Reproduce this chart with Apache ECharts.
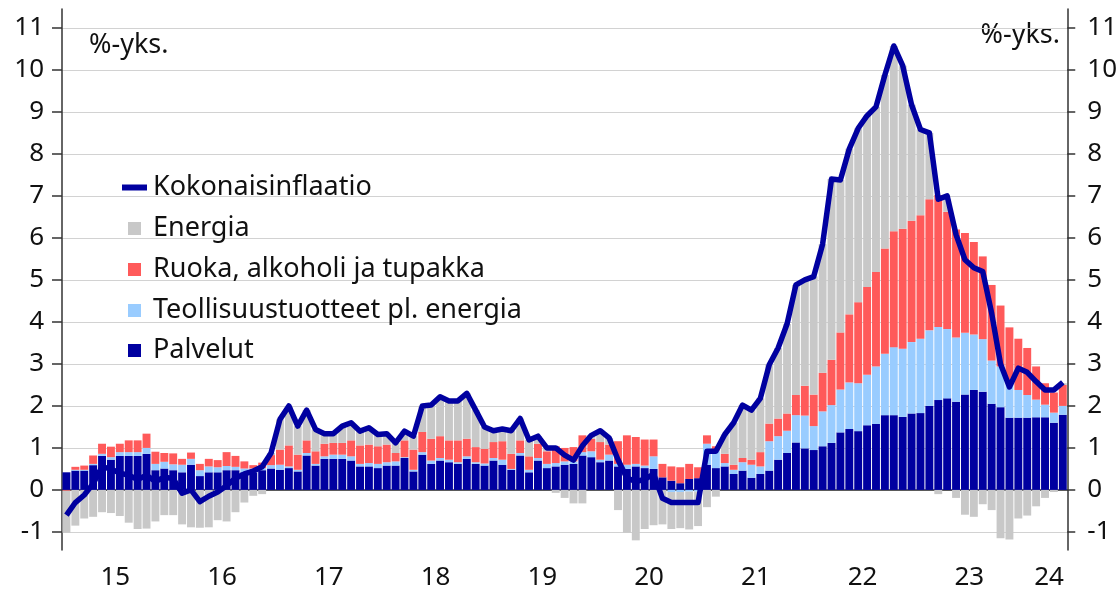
<!DOCTYPE html>
<html>
<head>
<meta charset="utf-8">
<script src="https://cdn.jsdelivr.net/npm/echarts@6/dist/echarts.min.js"></script>
<style>
  html, body { margin: 0; padding: 0; background: #fff; }
  #chart { width: 1120px; height: 593px; }
</style>
</head>
<body>
<div id="chart"></div>
<script>
// contributions to inflation, %-points, monthly 2015-01 .. 2024-05
const years = ['15', '16', '17', '18', '19', '20', '21', '22', '23', '24']

const palvelut = [
  0.42, 0.46, 0.46, 0.59, 0.81, 0.72, 0.81, 0.81, 0.81, 0.86, 0.47, 0.51,
  0.47, 0.42, 0.60, 0.33, 0.42, 0.42, 0.47, 0.47, 0.42, 0.42, 0.47, 0.51,
  0.48, 0.52, 0.44, 0.82, 0.58, 0.74, 0.74, 0.74, 0.70, 0.56, 0.56, 0.52,
  0.58, 0.58, 0.76, 0.44, 0.84, 0.62, 0.70, 0.66, 0.62, 0.74, 0.62, 0.58,
  0.70, 0.60, 0.48, 0.82, 0.42, 0.70, 0.52, 0.56, 0.60, 0.62, 0.82, 0.78,
  0.66, 0.70, 0.56, 0.50, 0.56, 0.52, 0.50, 0.30, 0.22, 0.16, 0.26, 0.28,
  0.60, 0.52, 0.56, 0.38, 0.46, 0.29, 0.38, 0.46, 0.72, 0.88, 1.13, 0.99,
  0.95, 1.04, 1.12, 1.37, 1.45, 1.40, 1.54, 1.57, 1.78, 1.78, 1.74, 1.82,
  1.83, 2.00, 2.14, 2.18, 2.10, 2.27, 2.38, 2.34, 2.05, 1.97, 1.72, 1.72,
  1.72, 1.73, 1.73, 1.60, 1.79
]

const teollisuus = [
  0.00, 0.02, 0.02, 0.03, 0.05, 0.06, 0.09, 0.09, 0.09, 0.14, 0.15, 0.16,
  0.14, 0.18, 0.14, 0.14, 0.14, 0.12, 0.10, 0.08, 0.09, 0.09, 0.05, 0.08,
  0.12, 0.04, 0.04, 0.06, 0.04, 0.06, 0.10, 0.10, 0.10, 0.06, 0.08, 0.10,
  0.08, 0.10, 0.02, 0.04, 0.06, 0.08, 0.06, 0.06, 0.04, 0.06, 0.04, 0.05,
  0.06, 0.12, 0.02, 0.06, 0.06, 0.06, 0.10, 0.08, 0.08, 0.06, 0.08, 0.14,
  0.06, 0.14, 0.06, 0.10, 0.06, 0.06, 0.30, 0.00, -0.05, -0.05, -0.04, -0.04,
  0.50, 0.42, 0.08, 0.10, 0.20, 0.31, 0.18, 0.70, 0.56, 0.53, 0.65, 0.78,
  0.57, 0.83, 0.90, 1.02, 1.11, 1.14, 1.20, 1.37, 1.46, 1.62, 1.62, 1.70,
  1.77, 1.80, 1.74, 1.65, 1.53, 1.47, 1.32, 1.25, 1.03, 0.97, 0.86, 0.66,
  0.54, 0.42, 0.30, 0.24, 0.21
]

const ruoka = [
  -0.02, 0.07, 0.10, 0.20, 0.24, 0.25, 0.20, 0.28, 0.28, 0.34, 0.29, 0.21,
  0.26, 0.14, 0.15, 0.15, 0.18, 0.17, 0.33, 0.26, 0.17, 0.08, 0.13, 0.24,
  0.36, 0.50, 0.36, 0.30, 0.30, 0.30, 0.28, 0.28, 0.38, 0.44, 0.44, 0.42,
  0.42, 0.20, 0.40, 0.48, 0.48, 0.52, 0.52, 0.46, 0.52, 0.42, 0.36, 0.35,
  0.38, 0.44, 0.36, 0.30, 0.32, 0.34, 0.30, 0.40, 0.32, 0.34, 0.40, 0.30,
  0.42, 0.24, 0.54, 0.70, 0.64, 0.62, 0.40, 0.32, 0.34, 0.38, 0.36, 0.26,
  0.20, 0.10, 0.22, 0.12, 0.10, 0.12, 0.34, 0.42, 0.42, 0.41, 0.48, 0.71,
  0.75, 0.92, 1.08, 1.36, 1.62, 1.93, 2.09, 2.25, 2.51, 2.76, 2.86, 2.89,
  2.94, 3.12, 3.14, 2.79, 2.57, 2.38, 2.20, 1.97, 1.80, 1.45, 1.29, 1.22,
  1.12, 0.79, 0.51, 0.48, 0.50
]

const energia = [
  -1.00, -0.85, -0.68, -0.64, -0.53, -0.55, -0.62, -0.78, -0.93, -0.92, -0.75, -0.60,
  -0.60, -0.82, -0.89, -0.90, -0.89, -0.72, -0.75, -0.53, -0.30, -0.14, -0.10, 0.05,
  0.72, 0.94, 0.68, 0.72, 0.52, 0.24, 0.22, 0.40, 0.42, 0.34, 0.40, 0.28,
  0.26, 0.24, 0.22, 0.32, 0.62, 0.80, 0.94, 0.94, 0.94, 1.08, 0.88, 0.52,
  0.27, 0.29, 0.55, 0.52, 0.39, 0.18, 0.08, -0.07, -0.19, -0.32, -0.32, 0.08,
  0.27, 0.16, -0.48, -1.02, -1.20, -0.93, -0.84, -0.82, -0.88, -0.86, -0.90, -0.82,
  -0.41, -0.16, 0.46, 1.00, 1.26, 1.18, 1.28, 1.40, 1.68, 2.13, 2.62, 2.52,
  2.81, 3.06, 4.30, 3.63, 3.94, 4.14, 4.08, 3.93, 4.13, 4.41, 3.88, 2.76,
  2.04, 1.58, -0.10, 0.30, -0.19, -0.59, -0.64, -0.34, -0.48, -1.15, -1.18, -0.68,
  -0.61, -0.39, -0.19, -0.05, 0.04
]

const kokonaisinflaatio = [
  -0.60, -0.30, -0.12, 0.15, 0.55, 0.50, 0.40, 0.35, 0.25, 0.35, 0.20, 0.30,
  0.27, -0.08, 0.00, -0.28, -0.15, -0.05, 0.10, 0.28, 0.38, 0.45, 0.55, 0.88,
  1.68, 2.00, 1.52, 1.90, 1.44, 1.34, 1.34, 1.52, 1.60, 1.40, 1.48, 1.32,
  1.34, 1.12, 1.40, 1.28, 2.00, 2.02, 2.22, 2.12, 2.12, 2.30, 1.90, 1.50,
  1.41, 1.45, 1.41, 1.70, 1.19, 1.28, 1.00, 1.00, 0.83, 0.71, 1.05, 1.30,
  1.41, 1.24, 0.72, 0.28, 0.20, 0.25, 0.38, -0.20, -0.30, -0.30, -0.30, -0.30,
  0.92, 0.92, 1.32, 1.60, 2.02, 1.90, 2.18, 2.98, 3.38, 3.95, 4.88, 5.00,
  5.08, 5.85, 7.40, 7.38, 8.12, 8.61, 8.91, 9.12, 9.88, 10.57, 10.10, 9.17,
  8.58, 8.50, 6.92, 7.00, 6.08, 5.48, 5.29, 5.20, 4.21, 3.00, 2.45, 2.90,
  2.80, 2.58, 2.38, 2.38, 2.56
]

const yTicks = [-1, 0, 1, 2, 3, 4, 5, 6, 7, 8, 9, 10, 11]

const months = []
years.forEach(y => {
  for (let m = 1; m <= 12; m++) months.push(y + '-' + m)
})
months.length = palvelut.length

const font = 'Noto Sans'
const textColor = '#111'
const axisColor = '#333'
const cDark = '#0000a0'

const chart = echarts.init(document.getElementById('chart'), null, { renderer: 'canvas' })

function legendItem(name, top, w, h, left, pad) {
  return {
    show: true,
    orient: 'vertical',
    left: left,
    top: top,
    padding: 0,
    itemWidth: w,
    itemHeight: h,
    selectedMode: false,
    data: [{ name: name, icon: 'rect' }],
    textStyle: { fontFamily: font, fontSize: 27, color: textColor, padding: [0, 0, 0, pad] }
  }
}

const barBase = {
  type: 'bar',
  stack: 'total',
  barCategoryGap: '11%',
  animation: false
}

chart.setOption({
  animation: false,
  grid: { left: 62, right: 44, top: 9, bottom: 43 },
  legend: [
    legendItem('Kokonaisinflaatio', 174, 25, 6, 122, 1),
    legendItem('Energia', 215, 13, 13, 128, 7),
    legendItem('Ruoka, alkoholi ja tupakka', 256, 13, 13, 128, 7),
    legendItem('Teollisuustuotteet pl. energia', 297, 13, 13, 128, 7),
    legendItem('Palvelut', 337, 13, 13, 128, 7)
  ],
  graphic: [
    {
      type: 'text', left: 89, top: 32,
      style: { text: '%-yks.', fontFamily: font, fontSize: 27, fill: textColor }
    },
    {
      type: 'text', right: 60, top: 22,
      style: { text: '%-yks.', fontFamily: font, fontSize: 27, fill: textColor }
    }
  ],
  xAxis: {
    type: 'category',
    data: months,
    boundaryGap: true,
    axisLine: { lineStyle: { color: axisColor, width: 1.5 } },
    axisTick: {
      length: 8,
      interval: (i) => i % 12 === 0,
      lineStyle: { color: axisColor, width: 1.5 }
    },
    axisLabel: {
      interval: (i, v) => v.split('-')[1] === '7' || i === months.length - 3,
      margin: 15,
      formatter: (v) => {
        const p = v.split('-')
        return p[1] === '7' ? '{a|' + p[0] + '}' : '{b|' + p[0] + '}'
      },
      rich: {
        a: { fontFamily: font, fontSize: 26, color: textColor, padding: [0, 9, 0, 0] },
        b: { fontFamily: font, fontSize: 26, color: textColor, padding: [0, 0, 0, 8] }
      }
    },
    splitLine: { show: false }
  },
  yAxis: [
    {
      type: 'value',
      position: 'left',
      min: -1.43,
      max: 11.45,
      axisLine: { show: true, lineStyle: { color: axisColor, width: 1.5 } },
      axisTick: { show: true, length: 10, customValues: yTicks, lineStyle: { color: axisColor, width: 1.5 } },
      axisLabel: { customValues: yTicks, margin: 18, fontFamily: font, fontSize: 26, color: textColor },
      splitLine: { show: true, lineStyle: { color: '#d2d2d2', width: 1.2 } }
    },
    {
      type: 'value',
      position: 'right',
      min: -1.43,
      max: 11.45,
      axisLine: { show: true, lineStyle: { color: axisColor, width: 1.5 } },
      axisTick: { show: true, length: 8, customValues: yTicks, lineStyle: { color: axisColor, width: 1.5 } },
      axisLabel: { customValues: yTicks, margin: 20, fontFamily: font, fontSize: 26, color: textColor },
      splitLine: { show: false }
    }
  ],
  series: [
    Object.assign({ name: 'Palvelut', data: palvelut, itemStyle: { color: cDark } }, barBase),
    Object.assign({ name: 'Teollisuustuotteet pl. energia', data: teollisuus, itemStyle: { color: '#99ccff' } }, barBase),
    Object.assign({ name: 'Ruoka, alkoholi ja tupakka', data: ruoka, itemStyle: { color: '#ff5a5a' } }, barBase),
    Object.assign({ name: 'Energia', data: energia, itemStyle: { color: '#c8c8c8' } }, barBase),
    {
      name: 'Kokonaisinflaatio',
      type: 'line',
      data: kokonaisinflaatio,
      symbol: 'none',
      z: 5,
      lineStyle: { color: cDark, width: 5.5, join: 'round' },
      itemStyle: { color: cDark },
      animation: false
    }
  ]
})
</script>
</body>
</html>
